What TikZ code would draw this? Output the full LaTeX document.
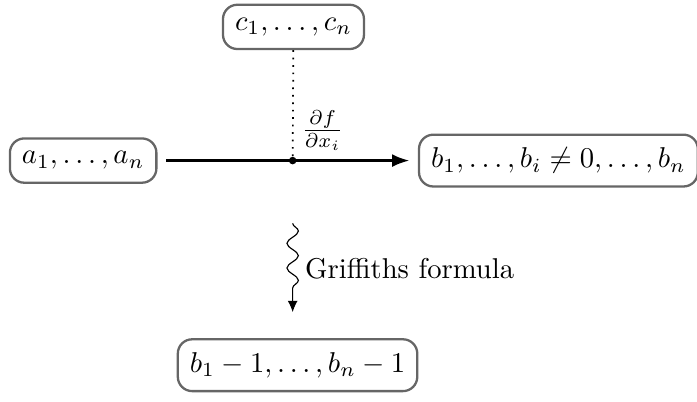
\documentclass[tikz,border=0pt]{standalone}
\usetikzlibrary{decorations.pathmorphing,arrows.meta}
\tikzset{
  term/.style={draw=black!60,rounded corners=5pt,thick,inner xsep=4.2pt,inner ysep=4.6pt},
  squig/.style={decorate,decoration={snake,amplitude=2pt,segment length=8.6pt,post length=2.5mm}},
}
\begin{document}
\begin{tikzpicture}[x=1cm,y=1cm]
\useasboundingbox (0,0) rectangle (8.55,4.92);
\node[term] (a) at (1.02,2.95) {$a_1,\dots,a_n$};
\node[term] (c) at (3.60,4.59) {$c_1,\dots,c_n$};
\node[term] (b) at (6.85,2.95) {$b_1,\dots,b_i\neq 0,\dots,b_n$};
\node[term] (d) at (3.65,0.44) {$b_1-1,\dots,b_n-1$};
\coordinate (m) at (3.59,2.95);
\coordinate (s) at (3.59,2.18);
\coordinate (t) at (3.59,1.09);
\draw[-{Latex[length=6pt,width=4.5pt]},thick,shorten <=3pt,shorten >=3pt] (a) -- (b);
\draw[dotted,semithick] (c) -- (m);
\filldraw (m) circle (1.1pt);
\node[anchor=south west,inner sep=2pt] (df) at (3.62,3.0) {$\frac{\partial f}{\partial x_i}$};
\draw[squig,-{Latex[length=4pt,width=3.5pt]}] (s) -- (t);
\node[anchor=west,inner sep=1pt] (gf) at (3.70,1.62) {Griffiths formula};
\end{tikzpicture}
\end{document}
